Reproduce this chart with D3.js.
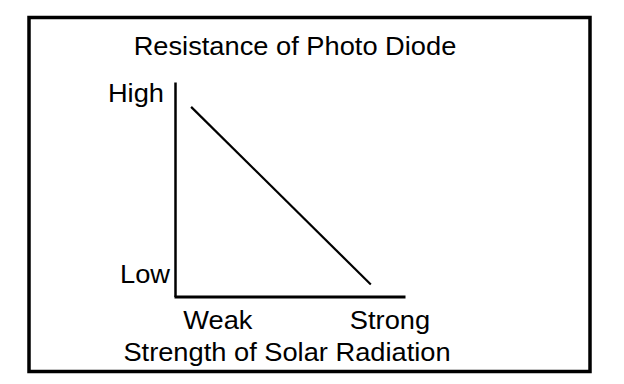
<!DOCTYPE html>
<html>
<head>
<meta charset="utf-8">
<script src="https://cdn.jsdelivr.net/npm/d3@7"></script>
<style>
  html, body { margin: 0; padding: 0; background: #fff; }
  svg { display: block; }
  text { font-family: "Liberation Sans", Arial, sans-serif; fill: #000; }
</style>
</head>
<body>
<svg id="chart" width="624" height="384"></svg>
<script>
// ---- data ----
const chartTitle = "Resistance of Photo Diode";
const xAxisTitle = "Strength of Solar Radiation";
const xTickValues = [0.19, 0.935];
const xTickLabels = ["Weak", "Strong"];
const yTickValues = [0.107, 0.95];
const yTickLabels = ["Low", "High"];
const lineX = [0.074, 0.852];
const lineY = [0.884, 0.056];

// ---- layout ----
const svg = d3.select("#chart");
const stretch = 1.09;
const fontSize = 25;

svg.append("rect")
  .attr("x", 29).attr("y", 17.5).attr("width", 561).attr("height", 354)
  .attr("fill", "none").attr("stroke", "#000").attr("stroke-width", 3.5);

const x = d3.scaleLinear().domain([0, 1]).range([174, 405]);
const y = d3.scaleLinear().domain([0, 1]).range([296.5, 82]);

const yAxis = svg.append("g").attr("transform", "translate(175,0)")
  .call(d3.axisLeft(y).tickValues([]).tickSizeOuter(0));
yAxis.select(".domain").attr("stroke", "#000").attr("stroke-width", 2.5);

const xAxis = svg.append("g").attr("transform", "translate(0,296.5)")
  .call(d3.axisBottom(x).tickValues([]).tickSizeOuter(0));
xAxis.select(".domain").attr("stroke", "#000").attr("stroke-width", 3);

const pts = lineX.map((d, i) => [d, lineY[i]]);
svg.append("path")
  .datum(pts)
  .attr("d", d3.line().x(d => x(d[0])).y(d => y(d[1])))
  .attr("fill", "none").attr("stroke", "#000").attr("stroke-width", 2.2);

function addText(str, px, py, anchor) {
  const t = svg.append("text")
    .attr("font-size", fontSize)
    .attr("y", py)
    .attr("x", 0)
    .text(str);
  const w = t.node().getComputedTextLength() * stretch;
  let x0 = px;
  if (anchor === "middle") x0 = px - w / 2;
  else if (anchor === "end") x0 = px - w;
  t.attr("x", x0).attr("textLength", w).attr("lengthAdjust", "spacingAndGlyphs");
  return t;
}

addText(chartTitle, 295, 55, "middle");
xTickValues.forEach((v, i) => addText(xTickLabels[i], x(v), 329, "middle"));
yTickValues.forEach((v, i) => addText(yTickLabels[i], i === 0 ? 170 : 164, y(v) + 9, "end"));
addText(xAxisTitle, 287, 361, "middle");
</script>
</body>
</html>
